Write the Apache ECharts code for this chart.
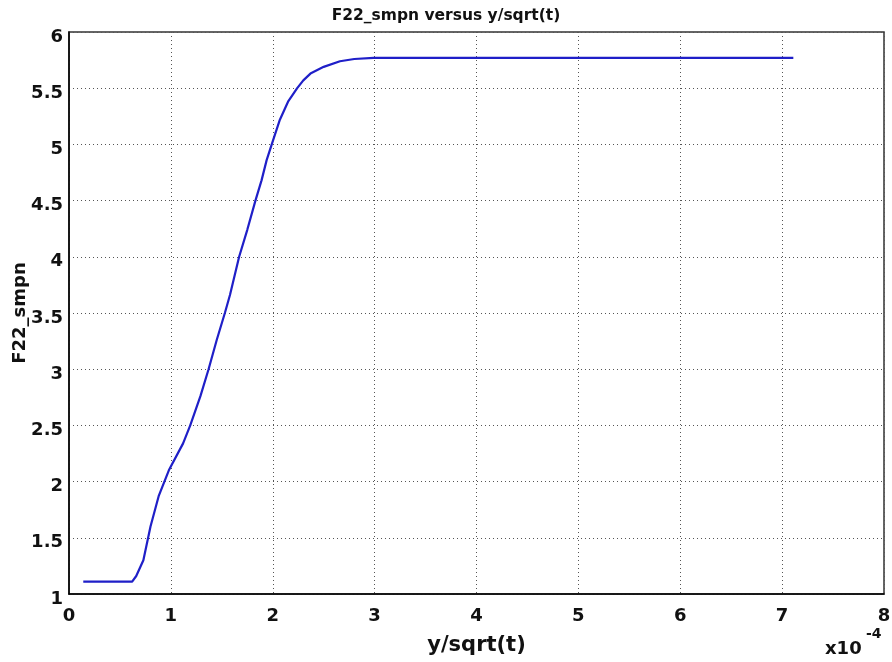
<!DOCTYPE html>
<html>
<head>
<meta charset="utf-8">
<title>F22_smpn versus y/sqrt(t)</title>
<script src="https://cdn.jsdelivr.net/npm/echarts@6/dist/echarts.min.js"></script>
<style>
  html, body { margin: 0; padding: 0; background: #fff; }
  #chart { width: 892px; height: 662px; }
</style>
</head>
<body>
<div id="chart"></div>
<script>
// y/sqrt(t), in units of 1e-4
const xValues = [0.14, 0.62, 0.66, 0.73, 0.80, 0.88, 0.98, 1.12, 1.19, 1.29, 1.37, 1.45, 1.53, 1.58, 1.67, 1.75, 1.83, 1.89, 1.94, 1.99, 2.07, 2.15, 2.24, 2.30, 2.37, 2.50, 2.66, 2.80, 2.99, 3.25, 4.0, 5.0, 6.0, 7.11];
// F22_smpn
const yValues = [1.11, 1.11, 1.16, 1.30, 1.60, 1.87, 2.10, 2.34, 2.50, 2.76, 3.00, 3.26, 3.50, 3.66, 4.00, 4.24, 4.50, 4.68, 4.86, 5.00, 5.22, 5.38, 5.50, 5.57, 5.63, 5.69, 5.74, 5.76, 5.77, 5.77, 5.77, 5.77, 5.77, 5.77];
const xTicks = [0, 1, 2, 3, 4, 5, 6, 7, 8];
const yTicks = [1, 1.5, 2, 2.5, 3, 3.5, 4, 4.5, 5, 5.5, 6];

const FONT = 'DejaVu Sans';
const chart = echarts.init(document.getElementById('chart'));

chart.setOption({
  animation: false,
  backgroundColor: '#ffffff',
  title: {
    text: 'F22_smpn versus y/sqrt(t)',
    left: 'center',
    top: 3,
    textStyle: { fontFamily: FONT, fontWeight: 'bold', fontSize: 15.5, color: '#111' }
  },
  grid: {
    left: 69, top: 32, right: 8, bottom: 68,
    outerBoundsMode: 'none',
    containLabel: false,
    show: true, borderColor: '#333', borderWidth: 1.5
  },
  xAxis: {
    type: 'value',
    min: xTicks[0], max: xTicks[xTicks.length - 1], interval: 1,
    name: 'y/sqrt(t)',
    nameLocation: 'middle',
    nameGap: 41,
    nameTextStyle: { fontFamily: FONT, fontWeight: 'bold', fontSize: 21, color: '#111' },
    axisLine: { lineStyle: { color: '#000', width: 1.5 } },
    axisTick: { show: false },
    axisLabel: {
      fontFamily: FONT, fontWeight: 'bold', fontSize: 18, color: '#111', margin: 13,
      formatter: v => xTicks.includes(v) ? String(v) : ''
    },
    splitLine: { show: true, lineStyle: { type: [1, 3], color: '#555', width: 1 } }
  },
  yAxis: {
    type: 'value',
    min: yTicks[0], max: yTicks[yTicks.length - 1], interval: 0.5,
    name: 'F22_smpn',
    nameLocation: 'middle',
    nameGap: 40,
    nameMoveOverlap: false,
    nameTextStyle: { fontFamily: FONT, fontWeight: 'bold', fontSize: 18, color: '#111' },
    axisLine: { lineStyle: { color: '#000', width: 1.5 } },
    axisTick: { show: false },
    axisLabel: {
      fontFamily: FONT, fontWeight: 'bold', fontSize: 18, color: '#111', margin: 6,
      verticalAlign: 'top',
      lineHeight: 10,
      formatter: v => String(v)
    },
    splitLine: { show: true, lineStyle: { type: [1, 3], color: '#555', width: 1 } }
  },
  graphic: [
    {
      type: 'text', left: 825, top: 640,
      style: { text: 'x10', font: 'bold 18px "DejaVu Sans"', fill: '#111' }
    },
    {
      type: 'text', left: 866, top: 627,
      style: { text: '-4', font: 'bold 14px "DejaVu Sans"', fill: '#111' }
    }
  ],
  series: [{
    type: 'line',
    data: xValues.map((x, i) => [x, yValues[i]]),
    showSymbol: false,
    lineStyle: { color: '#1f1fc8', width: 2.2 },
    z: 5
  }]
});
</script>
</body>
</html>
